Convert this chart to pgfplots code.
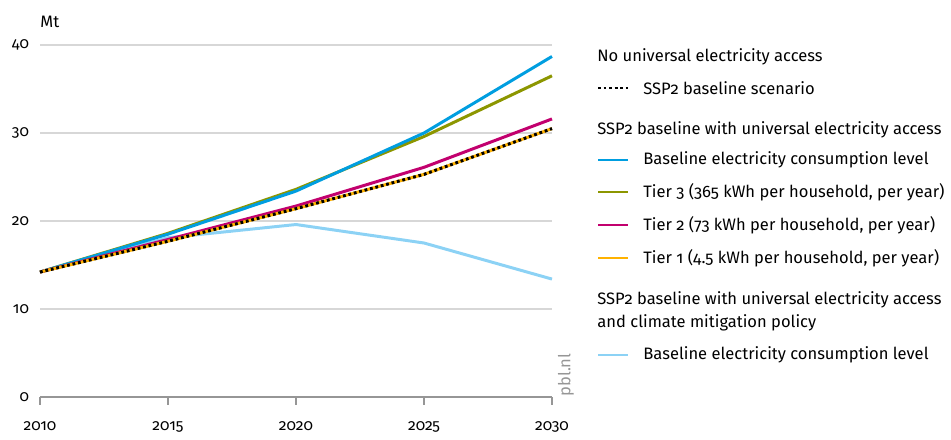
\documentclass[border=0pt]{standalone}
\usepackage{fontspec}
\setmainfont{Fira Sans}[Numbers=OldStyle]
\usepackage{pgfplots}
\pgfplotsset{compat=1.18}

\definecolor{cBase}{RGB}{0,158,224}
\definecolor{cTier3}{RGB}{140,150,0}
\definecolor{cTier2}{RGB}{194,0,110}
\definecolor{cTier1}{RGB}{255,178,0}
\definecolor{cMitig}{RGB}{140,210,245}
\definecolor{cGrid}{RGB}{215,215,215}
\definecolor{cAxis}{RGB}{150,150,150}

\begin{document}
\begin{tikzpicture}[font=\fontsize{8.3}{10}\selectfont]
\path (-20bp,-19bp) rectangle (455.5bp,198.5bp);
\begin{axis}[
  at={(0,0)}, anchor=origin,
  scale only axis, width=256bp, height=176bp,
  xmin=2010, xmax=2030, ymin=0, ymax=40,
  xtick={2010,2015,2020,2025,2030},
  ytick={0,10,20,30,40},
  /pgf/number format/assume math mode=true,
  /pgf/number format/1000 sep={},
  axis x line*=bottom, axis y line*=left,
  x axis line style={cAxis, line width=0.8pt, -},
  y axis line style={draw=none},
  xtick style={cAxis, line width=0.8pt},
  ytick style={draw=none},
  xtick align=outside, major tick length=4bp,
  ymajorgrids, grid style={cGrid, line width=0.8pt},
  tick label style={font=\fontsize{7.8}{9}\selectfont},
  yticklabel style={anchor=east, xshift=-2bp},
  xticklabel style={anchor=north, yshift=-5bp},
  clip=false,
]
\addplot[cMitig, line width=1.5pt] coordinates {(2010,14.2) (2015,18.1) (2020,19.6) (2025,17.5) (2030,13.4)};
\addplot[cTier3, line width=1.5pt] coordinates {(2010,14.2) (2015,18.6) (2020,23.6) (2025,29.6) (2030,36.5)};
\addplot[cBase, line width=1.5pt] coordinates {(2010,14.2) (2015,18.5) (2020,23.4) (2025,30.0) (2030,38.7)};
\addplot[cTier2, line width=1.5pt] coordinates {(2010,14.2) (2015,17.9) (2020,21.7) (2025,26.1) (2030,31.6)};
\addplot[cTier1, line width=1.5pt] coordinates {(2010,14.2) (2015,17.7) (2020,21.4) (2025,25.3) (2030,30.5)};
\addplot[black, line width=1.5pt, dash pattern=on 1.4pt off 1.4pt] coordinates {(2010,14.2) (2015,17.7) (2020,21.4) (2025,25.3) (2030,30.5)};
\end{axis}
% unit label and source
\node[anchor=west, inner sep=0pt] at (0bp,187.5bp) {Mt};
\node[rotate=90, text=cAxis] at (263bp,11bp) {pbl.nl};
% legend
\begin{scope}[every node/.style={anchor=west, inner sep=0pt}]
\node at (278.5bp,170bp) {No universal electricity access};
\draw[black, line width=1.5pt, dash pattern=on 1.4pt off 1.4pt] (279bp,154.5bp) -- (294bp,154.5bp);
\node at (301.5bp,154.5bp) {SSP2 baseline scenario};
\node at (278.5bp,133.5bp) {SSP2 baseline with universal electricity access};
\draw[cBase, line width=1.5pt] (279bp,118.5bp) -- (294bp,118.5bp);
\node at (301.5bp,118.5bp) {Baseline electricity consumption level};
\draw[cTier3, line width=1.5pt] (279bp,102.5bp) -- (294bp,102.5bp);
\node at (301.5bp,102.5bp) {Tier 3 (365 kWh per household, per year)};
\draw[cTier2, line width=1.5pt] (279bp,86bp) -- (294bp,86bp);
\node at (301.5bp,86bp) {Tier 2 (73 kWh per household, per year)};
\draw[cTier1, line width=1.5pt] (279bp,69.5bp) -- (294bp,69.5bp);
\node at (301.5bp,69.5bp) {Tier 1 (4.5 kWh per household, per year)};
\node at (278.5bp,48.5bp) {SSP2 baseline with universal electricity access};
\node at (278.5bp,37bp) {and climate mitigation policy};
\draw[cMitig, line width=1.5pt] (279bp,21bp) -- (294bp,21bp);
\node at (301.5bp,21bp) {Baseline electricity consumption level};
\end{scope}
\end{tikzpicture}
\end{document}
